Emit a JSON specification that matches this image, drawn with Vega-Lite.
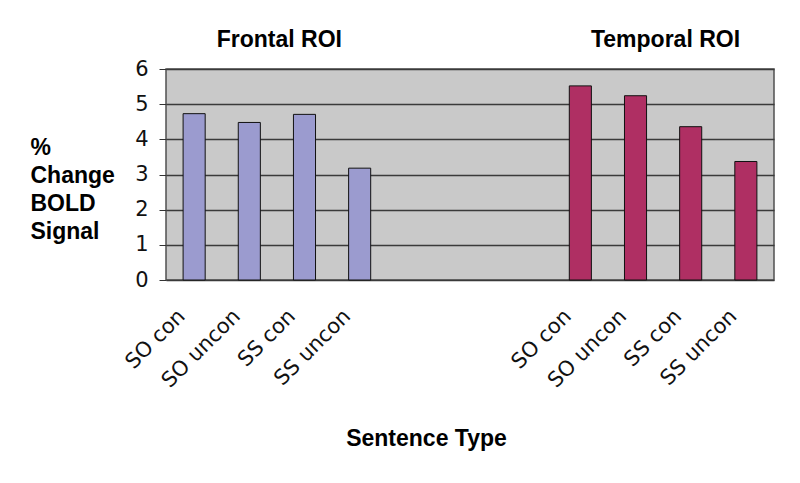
{
  "$schema": "https://vega.github.io/schema/vega-lite/v6.json",
  "width": 608,
  "height": 211,
  "autosize": {"type": "none"},
  "padding": {"left": 166, "top": 69, "right": 26, "bottom": 203},
  "background": "white",
  "config": {
    "view": {"fill": "#C9C9C9", "stroke": "#505050", "strokeWidth": 1.5}
  },
  "datasets": {
    "bars": [
      {"key": "F|SO con", "region": "Frontal", "value": 4.73},
      {"key": "F|SO uncon", "region": "Frontal", "value": 4.48},
      {"key": "F|SS con", "region": "Frontal", "value": 4.71},
      {"key": "F|SS uncon", "region": "Frontal", "value": 3.18},
      {"key": "T|SO con", "region": "Temporal", "value": 5.52},
      {"key": "T|SO uncon", "region": "Temporal", "value": 5.24},
      {"key": "T|SS con", "region": "Temporal", "value": 4.36},
      {"key": "T|SS uncon", "region": "Temporal", "value": 3.37}
    ],
    "groups": [
      {"key": "F|SO uncon", "label": "Frontal ROI", "value": 6},
      {"key": "T|SO uncon", "label": "Temporal ROI", "value": 6}
    ]
  },
  "encoding": {
    "x": {
      "field": "key", "type": "nominal",
      "scale": {"domain": ["F|SO con", "F|SO uncon", "F|SS con", "F|SS uncon", "g1", "g2", "g3", "T|SO con", "T|SO uncon", "T|SS con", "T|SS uncon"], "paddingInner": 0.6, "paddingOuter": 0.31},
      "axis": {
        "title": "Sentence Type",
        "labelExpr": "indexof(datum.value, '|') > 0 ? split(datum.value, '|')[1] : ''",
        "labelFont": "DejaVu Sans", "labelFontSize": 21, "labelColor": "#111",
        "labelAngle": -45, "labelPadding": 25, "labelOffset": -20, "labelOverlap": false, "ticks": false, "domain": false,
        "titleFont": "Liberation Sans", "titleFontWeight": "bold", "titleFontSize": 23, "titleColor": "#000",
        "titleX": 260, "titleY": 165, "titleAlign": "center", "titleBaseline": "alphabetic"
      }
    },
    "y": {
      "field": "value", "type": "quantitative",
      "scale": {"domain": [0, 6], "nice": false},
      "axis": {
        "values": [0, 1, 2, 3, 4, 5, 6],
        "labelOverlap": false,
        "labelFont": "DejaVu Sans", "labelFontSize": 21, "labelColor": "#111",
        "title": ["%", "Change", "BOLD", "Signal"],
        "titleFont": "Liberation Sans", "titleFontWeight": "bold", "titleFontSize": 23, "titleColor": "#000",
        "titleAngle": 0, "titleAlign": "left", "titleBaseline": "alphabetic",
        "titleX": -136, "titleY": 85, "titleLineHeight": 28,
        "domain": false, "tickSize": 7, "tickColor": "#333", "labelPadding": 11,
        "grid": true, "gridColor": "#3a3a3a", "gridWidth": 1.3
      }
    }
  },
  "layer": [
    {
      "data": {"name": "bars"},
      "mark": {"type": "bar", "stroke": "#111", "strokeWidth": 1},
      "encoding": {
        "color": {
          "field": "region", "type": "nominal",
          "scale": {"domain": ["Frontal", "Temporal"], "range": ["#9B9BCF", "#AF2F63"]},
          "legend": null
        }
      }
    },
    {
      "data": {"name": "groups"},
      "mark": {"type": "text", "font": "Liberation Sans", "fontWeight": "bold", "fontSize": 23, "color": "#000", "baseline": "alphabetic", "align": "center", "dx": 30, "dy": -22},
      "encoding": {
        "text": {"field": "label"}
      }
    }
  ]
}
